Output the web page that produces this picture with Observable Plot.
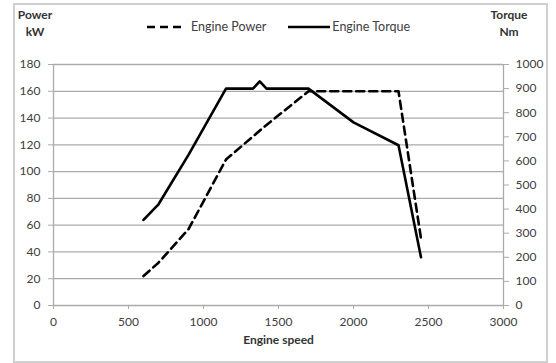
<!DOCTYPE html>
<html>
<head>
<meta charset="utf-8">
<script src="https://cdn.jsdelivr.net/npm/d3@7"></script>
<script src="https://cdn.jsdelivr.net/npm/@observablehq/plot@0.6"></script>
<style>
  html, body { margin: 0; padding: 0; background: #fff; }
  #wrap { position: relative; width: 556px; height: 363px; font-family: Lato, "Open Sans", sans-serif; color: #404040; }
  #frame { position: absolute; left: 13px; top: 3px; width: 531px; height: 356px; border: 2px solid #d0d0d0; box-sizing: content-box; }
  .lbl { position: absolute; font-size: 12px; font-weight: bold; text-align: center; line-height: 17px; color: #333; }
  #legend { position: absolute; top: 19px; left: 147px; font-size: 12.5px; display: flex; align-items: center; white-space: nowrap; }
  #legend svg { display: block; }
  #chart { position: absolute; left: 0; top: 0; }
</style>
</head>
<body>
<div id="wrap">
  <div id="frame"></div>
  <div id="chart"></div>
  <div class="lbl" style="left:14px; top:6px; width:42px;">Power<br>kW</div>
  <div class="lbl" style="left:486px; top:6px; width:46px;">Torque<br>Nm</div>
  <div id="legend"></div>
</div>
<script>
// Engine Power (kW) vs engine speed
const powerSpeed = [600, 700, 900, 1150, 1400, 1700, 2300, 2450];
const powerKW    = [22, 32, 57, 109, 133, 160, 160, 50];
// Engine Torque (Nm) vs engine speed
const torqueSpeed = [600, 700, 900, 1150, 1330, 1375, 1420, 1700, 2000, 2300, 2450];
const torqueNm    = [355, 420, 625, 900, 900, 930, 900, 900, 760, 665, 200];
// Axis ticks
const xTicks = [0, 500, 1000, 1500, 2000, 2500, 3000];
const powerTicks = [0, 20, 40, 60, 80, 100, 120, 140, 160, 180];
const torqueTicks = [0, 100, 200, 300, 400, 500, 600, 700, 800, 900, 1000];
const seriesNames = ["Engine Power", "Engine Torque"];

const k = 180 / 1000; // torque → power-axis units
const powerData = powerSpeed.map((s, i) => ({speed: s, value: powerKW[i]}));
const torqueData = torqueSpeed.map((s, i) => ({speed: s, value: torqueNm[i] * k}));

const grid = "#ababab";
const txt = "#404040";

const chart = Plot.plot({
  width: 556,
  height: 363,
  marginLeft: 53,
  marginRight: 53,
  marginTop: 64,
  marginBottom: 58,
  style: {fontFamily: "Lato, 'Open Sans', sans-serif", fontSize: "12px", color: txt, background: "transparent"},
  x: {domain: [0, 3000]},
  y: {domain: [0, 180]},
  marks: [
    Plot.ruleY(powerTicks, {stroke: grid, strokeWidth: 1.3}),
    Plot.ruleX([0, 3000], {stroke: grid, strokeWidth: 1.3}),
    Plot.axisY(powerTicks, {anchor: "left", tickSize: 5, tickPadding: 8, stroke: grid, label: null, fill: txt}),
    Plot.axisY(torqueTicks.map(t => t * k), {anchor: "right", tickSize: 5, tickPadding: 7, stroke: grid, label: null, fill: txt, textAnchor: "start",
      tickFormat: d => String(Math.round(d / k))}),
    Plot.axisX(xTicks, {anchor: "bottom", tickSize: 4, tickPadding: 8, stroke: grid, label: null, fill: txt, tickFormat: d => String(d)}),
    Plot.text(["Engine speed"], {frameAnchor: "bottom", dy: 38, fontWeight: "bold", fill: "#333", fontSize: 12}),
    Plot.line(powerData, {x: "speed", y: "value", stroke: "#000", strokeWidth: 2.6, strokeDasharray: "8,5"}),
    Plot.line(torqueData, {x: "speed", y: "value", stroke: "#000", strokeWidth: 2.6})
  ]
});
document.getElementById("chart").appendChild(chart);

// Legend
const lg = document.getElementById("legend");
lg.innerHTML =
  `<svg width="38" height="6"><line x1="0" y1="3" x2="38" y2="3" stroke="#000" stroke-width="2.6" stroke-dasharray="8,5"/></svg>` +
  `<span style="margin-left:6px">${seriesNames[0]}</span>` +
  `<svg width="42" height="6" style="margin-left:22px"><line x1="0" y1="3" x2="42" y2="3" stroke="#000" stroke-width="2.6"/></svg>` +
  `<span style="margin-left:2px">${seriesNames[1]}</span>`;
</script>
</body>
</html>
